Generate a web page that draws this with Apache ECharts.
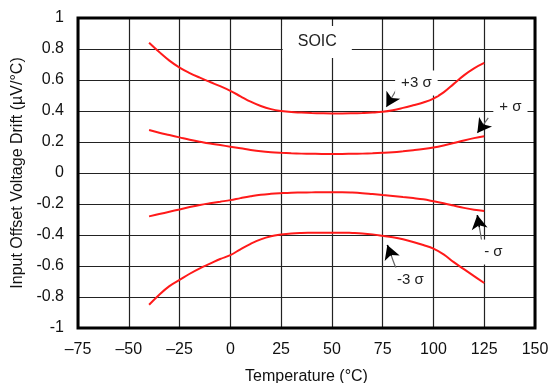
<!DOCTYPE html>
<html>
<head>
<meta charset="utf-8">
<script src="https://cdn.jsdelivr.net/npm/echarts@6/dist/echarts.min.js"></script>
<style>html,body{margin:0;padding:0;background:#fff;}#c{width:551px;height:383px;}</style>
</head>
<body>
<div id="c"></div>
<script>
var temps = [-40,-35,-30,-25,-20,-15,-10,-5,0,5,10,15,20,25,30,35,40,45,50,55,60,65,70,75,80,85,90,95,100,105,110,115,120,125];
var plus3Sigma = [0.84,0.78,0.725,0.68,0.645,0.615,0.587,0.56,0.53,0.495,0.46,0.432,0.412,0.40,0.393,0.39,0.387,0.385,0.384,0.384,0.385,0.387,0.39,0.395,0.405,0.42,0.437,0.455,0.48,0.52,0.575,0.63,0.675,0.71];
var plus1Sigma = [0.277,0.26,0.245,0.23,0.215,0.202,0.19,0.18,0.17,0.16,0.149,0.14,0.134,0.13,0.127,0.125,0.124,0.123,0.123,0.123,0.124,0.125,0.127,0.13,0.134,0.14,0.147,0.155,0.165,0.178,0.193,0.21,0.225,0.237];
var minus1Sigma = [-0.28,-0.265,-0.25,-0.235,-0.22,-0.206,-0.195,-0.185,-0.175,-0.162,-0.15,-0.14,-0.134,-0.13,-0.127,-0.126,-0.125,-0.124,-0.124,-0.124,-0.126,-0.13,-0.136,-0.142,-0.148,-0.155,-0.162,-0.17,-0.182,-0.195,-0.21,-0.225,-0.237,-0.245];
var minus3Sigma = [-0.85,-0.785,-0.73,-0.69,-0.65,-0.615,-0.585,-0.555,-0.53,-0.492,-0.457,-0.428,-0.408,-0.397,-0.39,-0.387,-0.386,-0.385,-0.385,-0.385,-0.387,-0.39,-0.396,-0.405,-0.415,-0.428,-0.445,-0.465,-0.488,-0.525,-0.575,-0.62,-0.665,-0.71];
var xTicks = [-75,-50,-25,0,25,50,75,100,125,150];
var yTicks = [-1,-0.8,-0.6,-0.4,-0.2,0,0.2,0.4,0.6,0.8,1];
var labelTexts = ['SOIC','+3 σ','+ σ','- σ','-3 σ'];
var labelCoords = [[42.8,0.845],[91.6,0.58],[137.9,0.426],[129.5,-0.51],[88.6,-0.69]];
var arrowFrom = [[82.2,0.548],[127.0,0.355],[124.1,-0.465],[82.2,-0.639]];
var arrowTo = [[76.8,0.426],[121.6,0.258],[121.6,-0.271],[77.3,-0.465]];

function zip(a){ return temps.map(function(t,i){ return [t,a[i]]; }); }
var chart = echarts.init(document.getElementById('c'), null, {renderer:'canvas'});
var FONT = 'Liberation Sans, Arial, sans-serif';
function curve(d){
  return {type:'line', data:zip(d), smooth:0.4, showSymbol:false, symbol:'none',
    lineStyle:{color:'#ff1a1a', width:2}, z:3, silent:true};
}
var arrowLines = [];
arrowFrom.forEach(function(f,i){
  var t = arrowTo[i];
  arrowLines.push([{coord:f, lineStyle:{color:'#666', width:1.2, type:'solid'}, symbol:'none'},{coord:t, symbol:'none'}]);
  var mx = t[0] + (f[0]-t[0])*0.4, my = t[1] + (f[1]-t[1])*0.4;
  arrowLines.push([{coord:[mx,my], lineStyle:{color:'#000', width:1.5}, symbol:'none'},{coord:t, symbol:'arrow', symbolSize:[12,14]}]);
});
chart.setOption({
  animation:false,
  grid:{left:78, right:16, top:18, bottom:55, outerBoundsMode:'none', containLabel:false,
    show:true, borderColor:'#000', borderWidth:3, backgroundColor:'transparent', z:4},
  xAxis:{type:'value', min:-75, max:150, interval:25,
    axisLine:{show:false}, axisTick:{show:false},
    splitLine:{show:true, lineStyle:{color:'#222', width:1.2}},
    axisLabel:{margin:14, fontSize:16, color:'#111', fontFamily:FONT,
      formatter:function(v){ return (v<0?'\u2013':'')+Math.abs(v); }},
    name:'Temperature (°C)', nameLocation:'middle', nameGap:41,
    nameTextStyle:{fontSize:16, color:'#111', fontFamily:FONT}},
  yAxis:{type:'value', min:-1, max:1, interval:0.2,
    axisLine:{show:false}, axisTick:{show:false},
    splitLine:{show:true, lineStyle:{color:'#222', width:1.2}},
    axisLabel:{margin:14, fontSize:16, color:'#111', fontFamily:FONT,
      formatter:function(v){ return String(Math.round(v*10)/10); }},
    name:'Input Offset Voltage Drift (µV/°C)', nameLocation:'middle', nameGap:52,
    nameTextStyle:{fontSize:16, color:'#111', fontFamily:FONT}},
  series:[
    curve(plus3Sigma), curve(plus1Sigma), curve(minus1Sigma), curve(minus3Sigma),
    {type:'scatter', data:[], silent:true, z:2,
      markPoint:{symbol:'rect', symbolSize:0, silent:true,
        data:labelTexts.map(function(t,i){
          var big = i===0;
          return {coord:labelCoords[i], value:t,
            label:{show:true, position:'inside', formatter:t, color:'#222',
              fontFamily:FONT, fontSize:big?16:15, backgroundColor:'#fff',
              padding:big?[8,15]:[5,6]}};
        })},
      markLine:{silent:true, symbol:'none', label:{show:false}, data:arrowLines}
    }
  ]
});
</script>
</body>
</html>
